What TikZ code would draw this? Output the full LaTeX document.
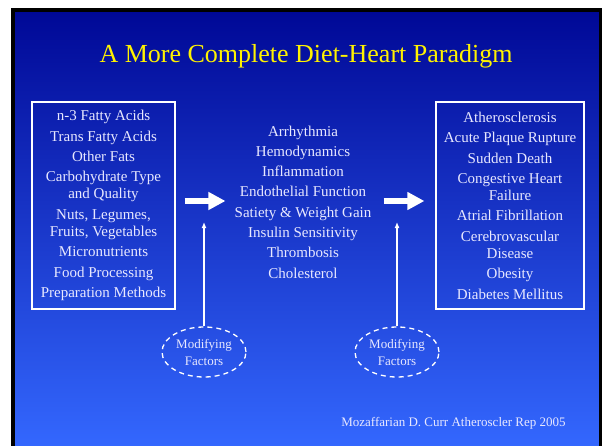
\documentclass[tikz,border=0pt]{standalone}
\usepackage{fontspec}
\setmainfont{Liberation Serif}
\usetikzlibrary{arrows.meta,shapes.geometric}
\definecolor{slidetop}{RGB}{0,8,150}
\definecolor{slidebot}{RGB}{52,104,255}
\definecolor{pale}{RGB}{232,232,255}
\tikzset{
  listbox/.style={draw=white,line width=1.2pt,minimum height=207pt,inner sep=0pt,
    align=center,text=pale,font=\fontsize{15}{17}\selectfont},
  factor/.style={ellipse,draw=white,line width=1.3pt,dash pattern=on 5pt off 4pt,
    minimum width=84pt,minimum height=50pt,inner sep=0pt,align=center,text=pale,
    font=\fontsize{13}{17}\selectfont},
  bigarrow/.style={draw=white,line width=6pt,-{Triangle[length=17pt,width=17pt]}},
  thinarrow/.style={draw=white,line width=1.5pt,-{Latex[length=6pt,width=5pt]}}
}
\begin{document}
\begin{tikzpicture}[x=1pt,y=-1pt]
  \useasboundingbox (0,0) rectangle (604,446);
  \begin{scope}
    \clip (0,0) rectangle (604,446);
    \draw[line width=3.5pt,top color=slidetop,bottom color=slidebot] (13,10) rectangle (600.5,450);
  \end{scope}
  \node[text=yellow,font=\fontsize{26}{30}\selectfont] (title) at (306,56) {A More Complete Diet-Heart Paradigm};

  \node[listbox,minimum width=143pt] (diet) at (103.5,205.5) {n-3 Fatty Acids\\[3.4pt]
    Trans Fatty Acids\\[3.4pt] Other Fats\\[3.4pt] Carbohydrate Type\\ and Quality\\[3.4pt]
    Nuts, Legumes,\\ Fruits, Vegetables\\[3.4pt] Micronutrients\\[3.4pt]
    Food Processing\\[3.4pt] Preparation Methods};
  \node[align=center,text=pale,inner sep=0pt,font=\fontsize{15}{20.3}\selectfont] (mech) at (303,202) {Arrhythmia\\
    Hemodynamics\\ Inflammation\\ Endothelial Function\\ Satiety \& Weight Gain\\
    Insulin Sensitivity\\ Thrombosis\\ Cholesterol};
  \node[listbox,minimum width=148pt] (disease) at (510,205.5) {Atherosclerosis\\[3.4pt]
    Acute Plaque Rupture\\[3.4pt] Sudden Death\\[3.4pt] Congestive Heart\\ Failure\\[3.4pt]
    Atrial Fibrillation\\[3.4pt] Cerebrovascular\\ Disease\\[3.4pt] Obesity\\[3.4pt]
    Diabetes Mellitus};

  \draw[bigarrow,shorten <=9pt,shorten >=9pt] (diet.east |- 0,201) -- (mech.west |- 0,201);
  \draw[bigarrow,shorten <=12pt,shorten >=11pt] (mech.east |- 0,201) -- (disease.west |- 0,201);

  \node[factor] (modA) at (204,352) {Modifying\\ Factors};
  \node[factor] (modB) at (397,352) {Modifying\\ Factors};
  \coordinate (tipA) at (204,222);
  \coordinate (tipB) at (397,222);
  \draw[thinarrow] (modA.north) -- (tipA);
  \draw[thinarrow] (modB.north) -- (tipB);

  \node[text=pale,font=\fontsize{13}{15}\selectfont] (cite) at (453.5,423) {Mozaffarian D. Curr Atheroscler Rep 2005};
\end{tikzpicture}
\end{document}
